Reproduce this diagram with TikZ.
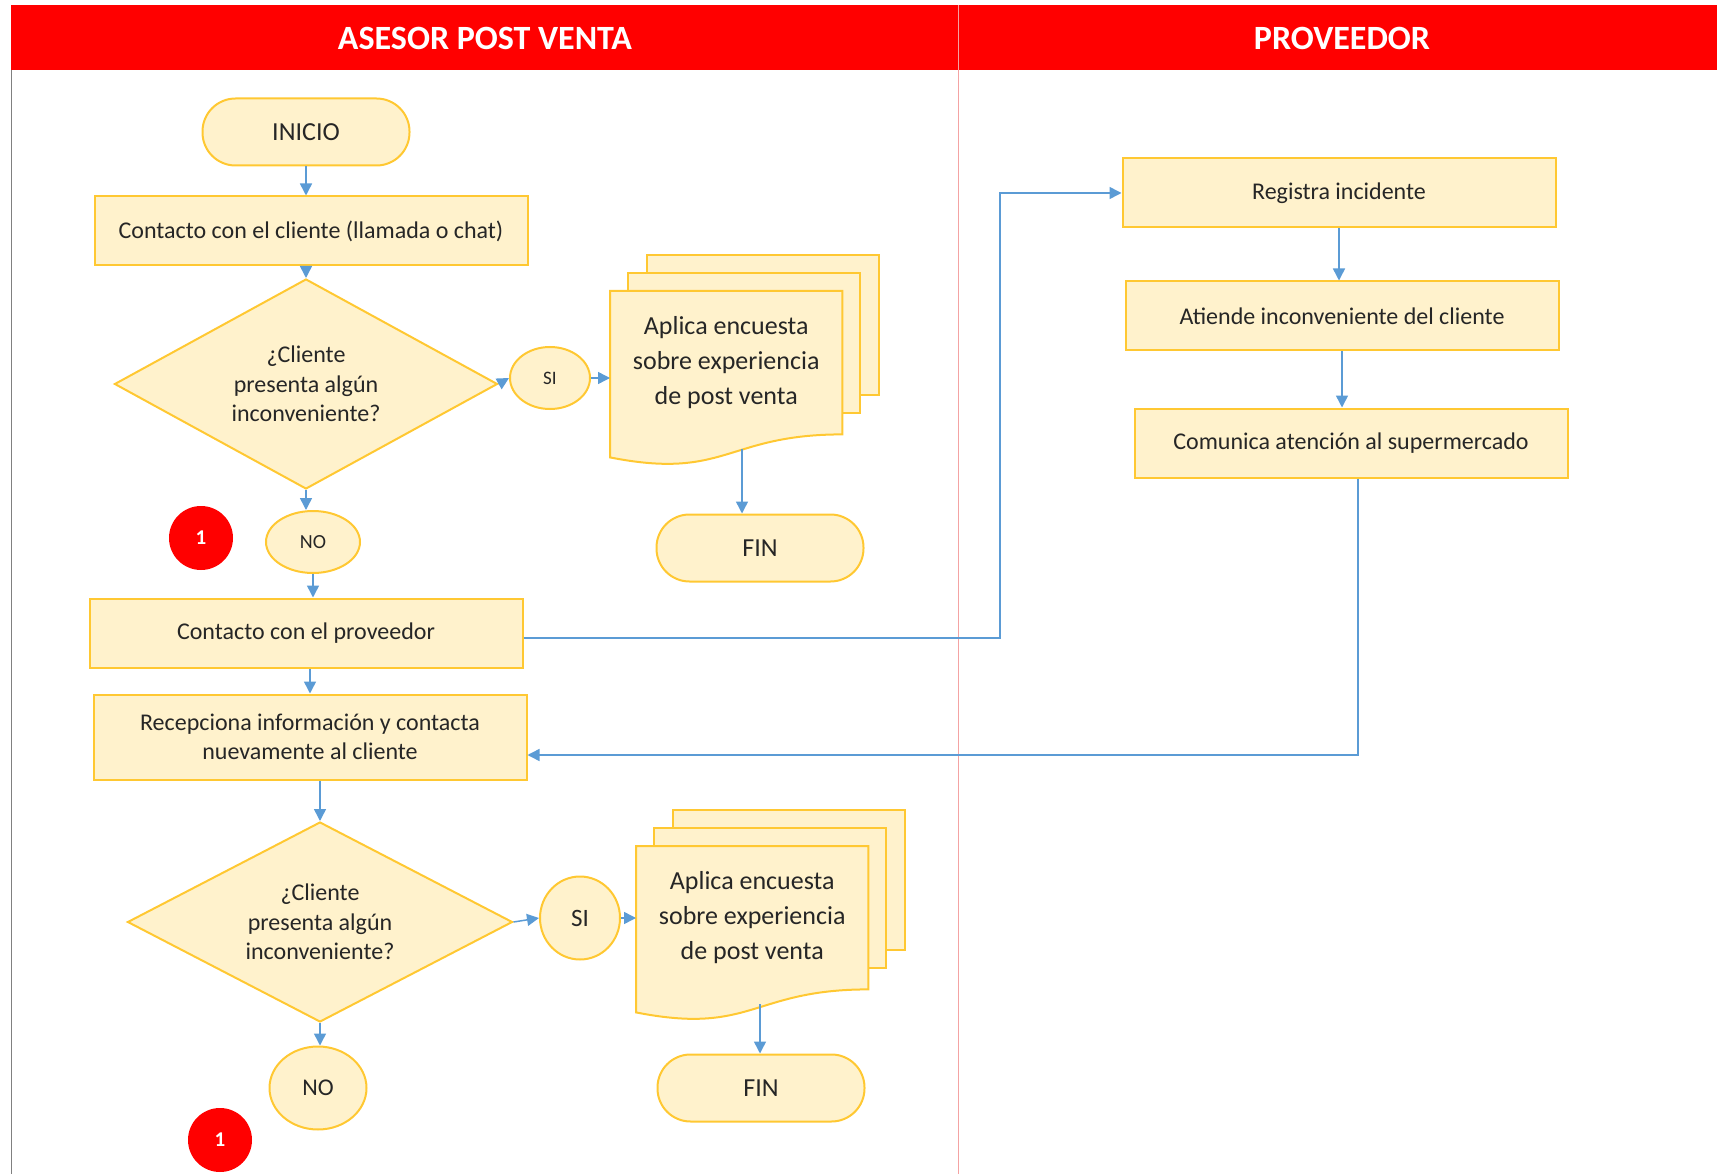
\documentclass[tikz,border=0pt]{standalone}
\usepackage{fontspec}
\setmainfont{Carlito}
\usetikzlibrary{arrows.meta,shapes.geometric,backgrounds,calc}
\definecolor{boxfill}{HTML}{FFF2CC}
\definecolor{boxline}{HTML}{FFC832}
\definecolor{flow}{HTML}{5B9BD5}
\definecolor{ink}{HTML}{262626}
\definecolor{lanered}{HTML}{FF0000}
\definecolor{divider}{HTML}{F4A3A3}
\begin{document}
\begin{tikzpicture}[x=1pt,y=-1pt,
  every node/.style={font=\fontsize{24}{29.6}\selectfont, text=ink},
  box/.style={draw=boxline, fill=boxfill, line width=2pt, minimum height=69pt,
    minimum width=433pt, inner sep=0pt, align=center},
  term/.style={box, rounded corners=33pt, minimum width=207pt, minimum height=67pt,
    font=\fontsize{26}{30}\selectfont},
  decide/.style={draw=boxline, fill=boxfill, line width=2pt, diamond, aspect=1.83,
    inner sep=0pt, align=center},
  oval/.style={draw=boxline, fill=boxfill, line width=2pt, ellipse, inner sep=0pt},
  badge/.style={circle, fill=lanered, minimum size=64pt, inner sep=0pt, text=white,
    font=\fontsize{21}{24}\bfseries},
  doctext/.style={minimum width=232pt, minimum height=143pt, anchor=north west,
    inner sep=0pt, align=center, font=\fontsize{26}{35}\selectfont},
  page/.style={draw=boxline, fill=boxfill, line width=2pt},
  flowarrow/.style={draw=flow, line width=1.5pt, -{Triangle[length=12pt,width=12pt]}},
  lanehead/.style={text=white, font=\fontsize{34}{40}\bfseries},
]
\useasboundingbox (0,0) rectangle (1717,1174);

% swimlane header and borders
\fill[lanered] (11,5) rectangle (1717,70);
\draw[divider, line width=1pt] (958,5) -- (958,1174);
\draw[gray, line width=1pt] (11,70) -- (11,1174);
\node[lanehead] (hleft) at (485,38) {ASESOR POST VENTA};
\node[lanehead] (hright) at (1342,38) {PROVEEDOR};

% left lane: first round
\node[term] (inicio) at (306,132) {INICIO};
\node[box] (c1) at (311,231) {Contacto con el cliente (llamada o chat)};
\node[decide, minimum width=383pt, minimum height=210pt] (d1) at (306,384)
  {¿Cliente\\presenta algún\\inconveniente?};
\node[oval, minimum width=80pt, minimum height=62pt, font=\fontsize{19}{22}\selectfont]
  (si1) at (550,378) {SI};
\node[doctext] (doc1) at (610,291) {Aplica encuesta\\sobre experiencia\\de post venta};
\node[term] (fin1) at (760,548) {FIN};
\node[badge] (r1) at (201,538) {1};
\node[oval, minimum width=94pt, minimum height=62pt, font=\fontsize{20}{22}\selectfont]
  (no1) at (313,542) {NO};
\node[box] (prov) at (306,633) {Contacto con el proveedor};
\node[box, minimum height=85pt] (recep) at (310,737)
  {Recepciona información y contacta\\nuevamente al cliente};

% left lane: second round
\node[decide, minimum width=385pt, minimum height=200pt] (d2) at (320,922)
  {¿Cliente\\presenta algún\\inconveniente?};
\node[oval, minimum width=80pt, minimum height=83pt, font=\fontsize{25}{28}\selectfont]
  (si2) at (580,918) {SI};
\node[doctext] (doc2) at (636,846) {Aplica encuesta\\sobre experiencia\\de post venta};
\node[term] (fin2) at (761,1088) {FIN};
\node[oval, minimum width=97pt, minimum height=83pt, font=\fontsize{24}{28}\selectfont]
  (no2) at (318,1088) {NO};
\node[badge] (r2) at (220,1140) {1};

% right lane
\node[box] (reg) at (1339,193) {Registra incidente};
\node[box] (ati) at (1342,316) {Atiende inconveniente del cliente};
\node[box] (com) at (1351,443) {Comunica atención al supermercado};

% stacked document outlines behind the survey texts
\begin{pgfonlayer}{background}
  \foreach \d in {doc1,doc2}{
    \path[page] ($(\d.north west)+(37,-36)$) rectangle ($(\d.north west)+(269,104)$);
    \path[page] ($(\d.north west)+(18,-18)$) rectangle ($(\d.north west)+(250,122)$);
    \path[page] (\d.north west) -- (\d.north east) -- (\d.south east)
      .. controls (\d.south) and ($(\d.south)+(0,46)$) .. ($(\d.south west)+(0,23)$)
      -- cycle;
  }
\end{pgfonlayer}
\coordinate (d1out) at ($(doc1.south west)+(132,15)$);
\coordinate (d2out) at ($(doc2.south west)+(124,15)$);

% connectors
\draw[flowarrow] (inicio.south) -- (inicio.south |- c1.north);
\draw[flowarrow] (c1.south -| d1.north) -- (d1.north);
\draw[flowarrow] (d1.east) -- (si1.west);
\draw[flowarrow] (si1.east) -- (si1.east -| doc1.west);
\draw[flowarrow] (d1out) -- (d1out |- fin1.north);
\draw[flowarrow] (d1.south) -- (d1.south |- no1.north);
\draw[flowarrow] (no1.south) -- (no1.south |- prov.north);
\draw[flowarrow] (prov.south -| recep.north) -- (recep.north);
\draw[flowarrow] (recep.south -| d2.north) -- (d2.north);
\draw[flowarrow] (d2.east) -- (si2.west);
\draw[flowarrow] (si2.east) -- (si2.east -| doc2.west);
\draw[flowarrow] (d2out) -- (d2out |- fin2.north);
\draw[flowarrow] (d2.south) -- (d2.south |- no2.north);

\coordinate (k1) at (1000,638);
\draw[flowarrow] (prov.east |- k1) -- (k1) |- (reg.west);
\draw[flowarrow] (reg.south) -- (reg.south |- ati.north);
\draw[flowarrow] (ati.south) -- (ati.south |- com.north);
\coordinate (k2) at (1358,755);
\draw[flowarrow] (com.south -| k2) -- (k2) -- (k2 -| recep.east);
\end{tikzpicture}
\end{document}
